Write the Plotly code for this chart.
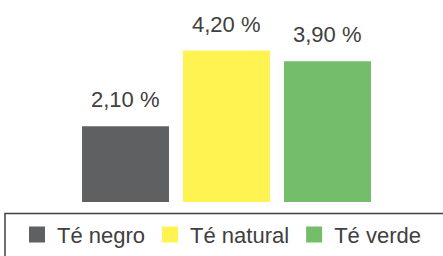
import plotly.graph_objects as go

categories = ["Té negro", "Té natural", "Té verde"]
values = [2.10, 4.20, 3.90]
labels = ["2,10 %", "4,20 %", "3,90 %"]
colors = ["#5f6062", "#fff352", "#74bd6b"]

FONT = "Liberation Sans, Arial, sans-serif"
TXT = "#404040"

H_PLOT = 210  # plot-area height in px
PX_PER_UNIT = 37.5

fig = go.Figure()
for cat, val, col in zip(categories, values, colors):
    fig.add_trace(go.Bar(x=[cat], y=[val], marker=dict(color=col, line=dict(width=0)),
                         width=0.861, showlegend=False, hoverinfo="skip"))
for cat, col in zip(categories, colors):
    fig.add_trace(go.Scatter(x=[None], y=[None], mode="markers", name=cat,
                             marker=dict(symbol="square", size=16, color=col)))

for cat, val, lab in zip(categories, values, labels):
    fig.add_annotation(x=cat, y=val, text=lab, showarrow=False, yanchor="bottom",
                       yshift=12, font=dict(family=FONT, size=22, color=TXT))

fig.add_shape(type="rect", xref="paper", yref="paper",
              x0=5/443, x1=1.05, y0=-12/H_PLOT, y1=-0.4,
              line=dict(color="#404040", width=1.5), fillcolor="rgba(0,0,0,0)")

fig.update_layout(
    width=443, height=256,
    margin=dict(l=0, r=0, t=0, b=256 - H_PLOT, pad=0),
    paper_bgcolor="white", plot_bgcolor="white",
    barmode="overlay",
    xaxis=dict(range=[-1.2426, 3.1436], visible=False, fixedrange=True),
    yaxis=dict(range=[0, H_PLOT / PX_PER_UNIT], visible=False, fixedrange=True),
    showlegend=True,
    legend=dict(orientation="h", x=17/443, xanchor="left", y=-34/H_PLOT, yanchor="middle",
                font=dict(family=FONT, size=22, color=TXT), bgcolor="rgba(0,0,0,0)",
                borderwidth=0, itemclick=False, itemdoubleclick=False),
)

fig.write_html("out.html", config={"displayModeBar": False},
               post_script="document.body.style.margin='0';document.body.style.overflow='hidden';")
